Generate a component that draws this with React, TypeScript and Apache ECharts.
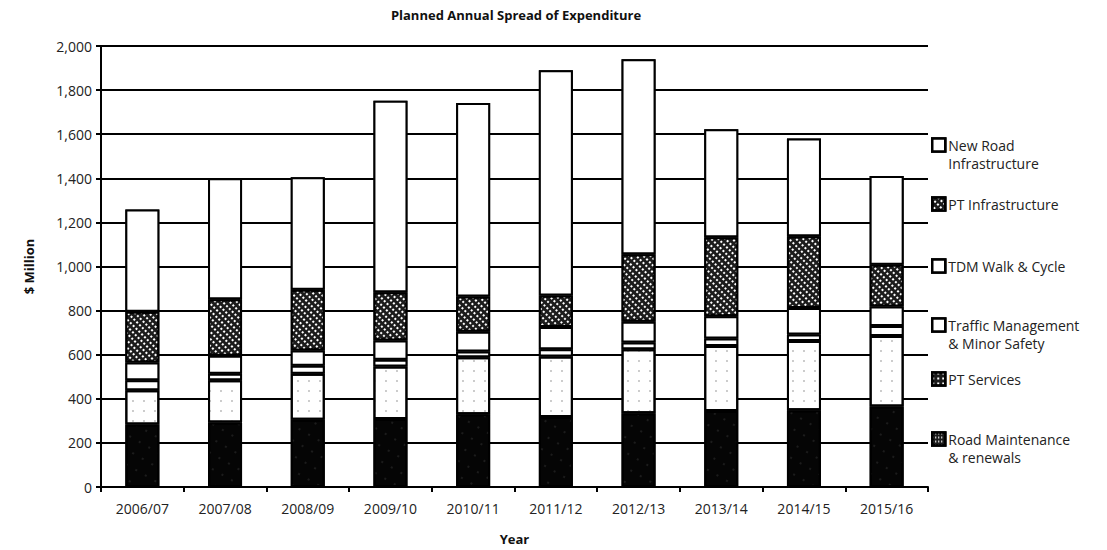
import React, { useEffect, useRef } from "react";
import * as echarts from "echarts";

const years = ["2006/07", "2007/08", "2008/09", "2009/10", "2010/11", "2011/12", "2012/13", "2013/14", "2014/15", "2015/16"];
const roadMaintenance = [283, 293, 305, 308, 330, 318, 335, 345, 348, 365];
const ptServices = [156, 191, 209, 239, 259, 274, 290, 295, 314, 320];
const trafficManagement = [45, 30, 36, 30, 25, 33, 30, 34, 30, 45];
const tdmWalkCycle = [81, 81, 69, 87, 90, 101, 94, 100, 120, 89];
const ptInfrastructure = [230, 257, 275, 219, 160, 142, 306, 359, 325, 189];
const newRoadInfrastructure = [463, 548, 511, 869, 878, 1022, 885, 489, 444, 402];

const seriesNames = [
  "Road Maintenance & renewals",
  "PT Services",
  "Traffic Management & Minor Safety",
  "TDM Walk & Cycle",
  "PT Infrastructure",
  "New Road Infrastructure",
];
const legendLabels: Record<string, string> = {
  "New Road Infrastructure": "\nNew Road\nInfrastructure",
  "PT Infrastructure": "PT Infrastructure",
  "TDM Walk & Cycle": "TDM Walk & Cycle",
  "Traffic Management & Minor Safety": "\nTraffic Management\n& Minor Safety",
  "PT Services": "PT Services",
  "Road Maintenance & renewals": "\nRoad Maintenance\n& renewals",
};

const FONT = "Open Sans";

export default function App() {
  const ref = useRef<HTMLDivElement>(null);
  useEffect(() => {
    if (!ref.current) return;
    const chart = echarts.init(ref.current, undefined, { renderer: "svg" });
    const values = [roadMaintenance, ptServices, trafficManagement, tdmWalkCycle, ptInfrastructure, newRoadInfrastructure];
    const fills = ["#050505", "#ffffff", "#ffffff", "#ffffff", "#1c1c1c", "#ffffff"];
    const plain = { symbol: "rect", symbolSize: 1, color: "#ffffff", backgroundColor: "#ffffff", dashArrayX: [4, 0], dashArrayY: [4, 0] };
    const decals: any[] = [
      { symbol: "rect", symbolSize: 0.5, color: "rgba(255,255,255,0.35)", backgroundColor: "#050505", dashArrayX: [2, 9], dashArrayY: [2, 11] },
      { symbol: "rect", symbolSize: 0.6, color: "#555", backgroundColor: "#ffffff", dashArrayX: [2, 9], dashArrayY: [2, 8] },
      plain,
      plain,
      { symbol: "rect", symbolSize: 1, color: "#ffffff", backgroundColor: "#151515", dashArrayX: [2, 2], dashArrayY: [2, 3] },
      plain,
    ];
    const legendDecals: Record<string, any> = {
      "PT Services": { symbol: "rect", symbolSize: 1, color: "#ffffff", backgroundColor: "#1a1a1a", dashArrayX: [2, 3], dashArrayY: [2, 3] },
      "Road Maintenance & renewals": { symbol: "rect", symbolSize: 1, color: "#ffffff", backgroundColor: "#1a1a1a", dashArrayX: [1, 2], dashArrayY: [2, 2] },
    };
    const series = seriesNames.map((name, i) => ({
      name,
      type: "bar",
      stack: "total",
      barWidth: 34,
      data: values[i],
      itemStyle: { color: fills[i], borderColor: "#000", borderWidth: 2, decal: decals[i] },
    }));
    const legendTops: Record<string, number> = {
      "New Road Infrastructure": 118,
      "PT Infrastructure": 195,
      "TDM Walk & Cycle": 257,
      "Traffic Management & Minor Safety": 298,
      "PT Services": 370,
      "Road Maintenance & renewals": 412,
    };
    const legends = Object.keys(legendTops).map((name) => {
      const itemStyle: any = { borderWidth: 2.5, borderColor: "#000" };
      if (legendDecals[name]) {
        itemStyle.color = "#1a1a1a";
        itemStyle.decal = legendDecals[name];
      }
      return {
        data: [name],
        left: 931,
        top: legendTops[name],
        orient: "vertical",
        padding: 0,
        icon: "rect",
        itemWidth: 13,
        itemHeight: 13,
        itemGap: 5,
        selectedMode: false,
        formatter: (n: string) => legendLabels[n],
        itemStyle,
        textStyle: {
          fontFamily: FONT,
          fontSize: 14,
          color: "#222",
          lineHeight: 18,
          padding: [0, 0, 0, -2],
        },
      };
    });
    const option: any = {
      animation: false,
      aria: { enabled: true, decal: { show: true } },
      title: {
        text: "Planned Annual Spread of Expenditure",
        left: 511,
        textAlign: "center",
        top: 3,
        textStyle: { fontFamily: FONT, fontSize: 13, fontWeight: "bold", color: "#111" },
      },
      legend: legends,
      grid: { left: 101, right: 179, top: 46, bottom: 58, containLabel: false },
      xAxis: {
        type: "category",
        data: years,
        name: "Year",
        nameLocation: "middle",
        nameGap: 45,
        nameTextStyle: { fontFamily: FONT, fontSize: 13, fontWeight: "bold", color: "#111" },
        axisLine: { lineStyle: { color: "#000", width: 2 } },
        axisTick: { show: true, length: 5, lineStyle: { color: "#000", width: 2 } },
        axisLabel: { fontFamily: FONT, fontSize: 14, color: "#222", margin: 14 },
      },
      yAxis: {
        type: "value",
        min: 0,
        max: 2000,
        interval: 200,
        name: "$ Million",
        nameLocation: "middle",
        nameRotate: 90,
        nameGap: 66,
        nameTextStyle: { fontFamily: FONT, fontSize: 13, fontWeight: "bold", color: "#111" },
        axisLine: { show: true, lineStyle: { color: "#000", width: 2 } },
        axisTick: { show: true, length: 5, lineStyle: { color: "#000", width: 2 } },
        axisLabel: {
          fontFamily: FONT,
          fontSize: 14,
          color: "#222",
          margin: 9,
          formatter: (v: number) => v.toLocaleString("en-US"),
        },
        splitLine: { show: true, lineStyle: { color: "#000", width: 2 } },
      },
      series,
    };
    chart.setOption(option);
    return () => chart.dispose();
  }, []);
  return <div ref={ref} style={{ position: "fixed", left: 0, top: 0, width: 1107, height: 550, background: "#fff" }} />;
}
